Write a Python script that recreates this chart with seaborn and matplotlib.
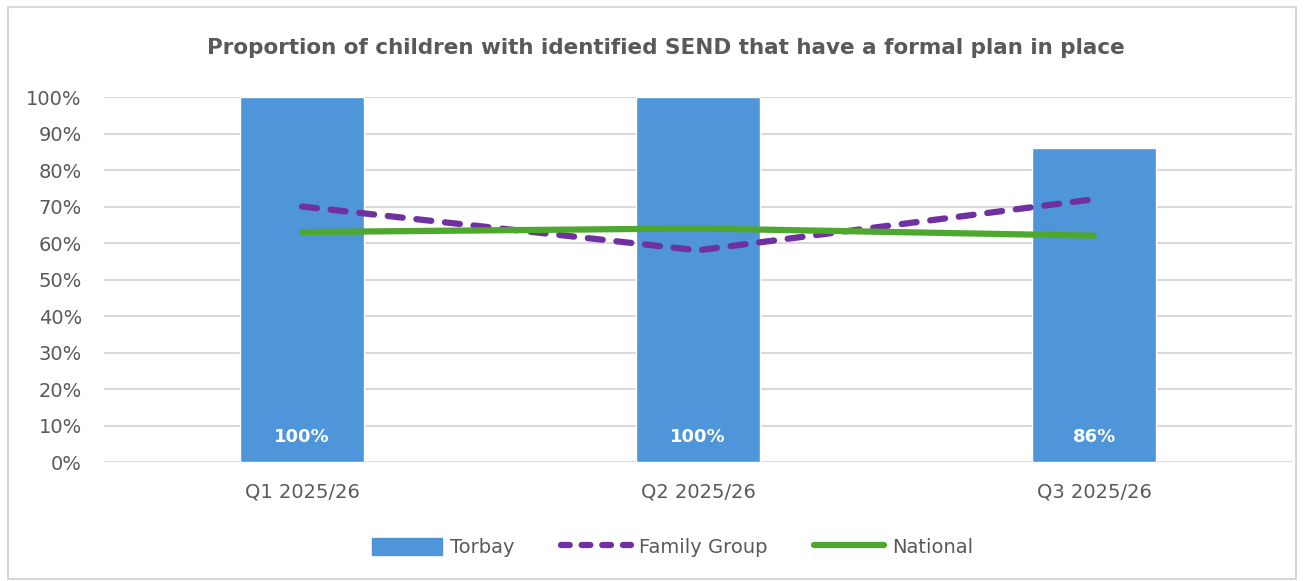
import matplotlib
matplotlib.use('Agg')
import matplotlib.pyplot as plt
from matplotlib.patches import Patch
from matplotlib.lines import Line2D
import seaborn as sns
import pandas as pd

# data
quarters = ['Q1 2025/26', 'Q2 2025/26', 'Q3 2025/26']
torbay = [1.00, 1.00, 0.86]
family_group = [0.70, 0.58, 0.72]
national = [0.63, 0.64, 0.62]

bar_colour = '#4E95D9'
fg_colour = '#7030A0'
nat_colour = '#4EA72E'
text_colour = '#595959'

sns.set_theme(style='white')
plt.rcParams['font.family'] = ['DejaVu Sans']

df = pd.DataFrame({'quarter': quarters, 'Torbay': torbay,
                   'Family Group': family_group, 'National': national})
df['pos'] = range(len(df))

fig = plt.figure(figsize=(13.04, 5.81), dpi=100)
ax = fig.add_axes([0.0798, 0.2048, 0.9110, 0.6282])

sns.barplot(data=df, x='quarter', y='Torbay', color=bar_colour, width=0.313,
            saturation=1, ax=ax, zorder=2)
sns.lineplot(data=df, x='pos', y='Family Group', color=fg_colour, lw=4.5,
             ax=ax, zorder=3, legend=False)
ax.lines[-1].set_linestyle((0, (2.4, 2.2)))
ax.lines[-1].set_dash_capstyle('round')
sns.lineplot(data=df, x='pos', y='National', color=nat_colour, lw=4.5,
             ax=ax, zorder=4, legend=False)
ax.lines[-1].set_solid_capstyle('round')

# data labels at the foot of the bars
for i, v in enumerate(torbay):
    ax.annotate(f'{v:.0%}', (i, 0), xytext=(0, 25), textcoords='offset pixels',
                ha='center', va='center', color='white', fontsize=13,
                fontweight='bold')

ax.set_xlim(-0.5, 2.5)
ax.set_ylim(0, 1)
ax.set_yticks([i / 10 for i in range(11)])
ax.set_yticklabels([f'{i * 10}%' for i in range(11)])
ax.set_xticks(range(3))
ax.set_xticklabels(quarters)
ax.tick_params(axis='both', length=0, labelsize=14, labelcolor=text_colour)
ax.tick_params(axis='x', pad=15)
ax.tick_params(axis='y', pad=16)
ax.set_xlabel('')
ax.set_ylabel('')
ax.grid(axis='y', color='#D9D9D9', lw=1.5, zorder=0)
ax.set_axisbelow(True)
for s in ax.spines.values():
    s.set_visible(False)

fig.suptitle('Proportion of children with identified SEND that have a formal plan in place',
             x=0.511, y=0.935, fontsize=15.5, fontweight='bold', color=text_colour)

handles = [Patch(color=bar_colour),
           Line2D([], [], color=fg_colour, lw=4.5, ls=(0, (1.4, 1.9)), dash_capstyle='round'),
           Line2D([], [], color=nat_colour, lw=4.5, solid_capstyle='round')]
fig.legend(handles, ['Torbay', 'Family Group', 'National'], loc='center',
           bbox_to_anchor=(0.516, 0.058), ncol=3, frameon=False, fontsize=14,
           labelcolor=text_colour, handlelength=3.6, handleheight=1.0,
           columnspacing=2.4, handletextpad=0.4)

fig.patches.append(plt.Rectangle((0.006, 0.003), 0.988, 0.985, transform=fig.transFigure,
                                 fill=False, edgecolor='#D9D9D9', lw=1.5))

fig.savefig('out.png', dpi=100)
